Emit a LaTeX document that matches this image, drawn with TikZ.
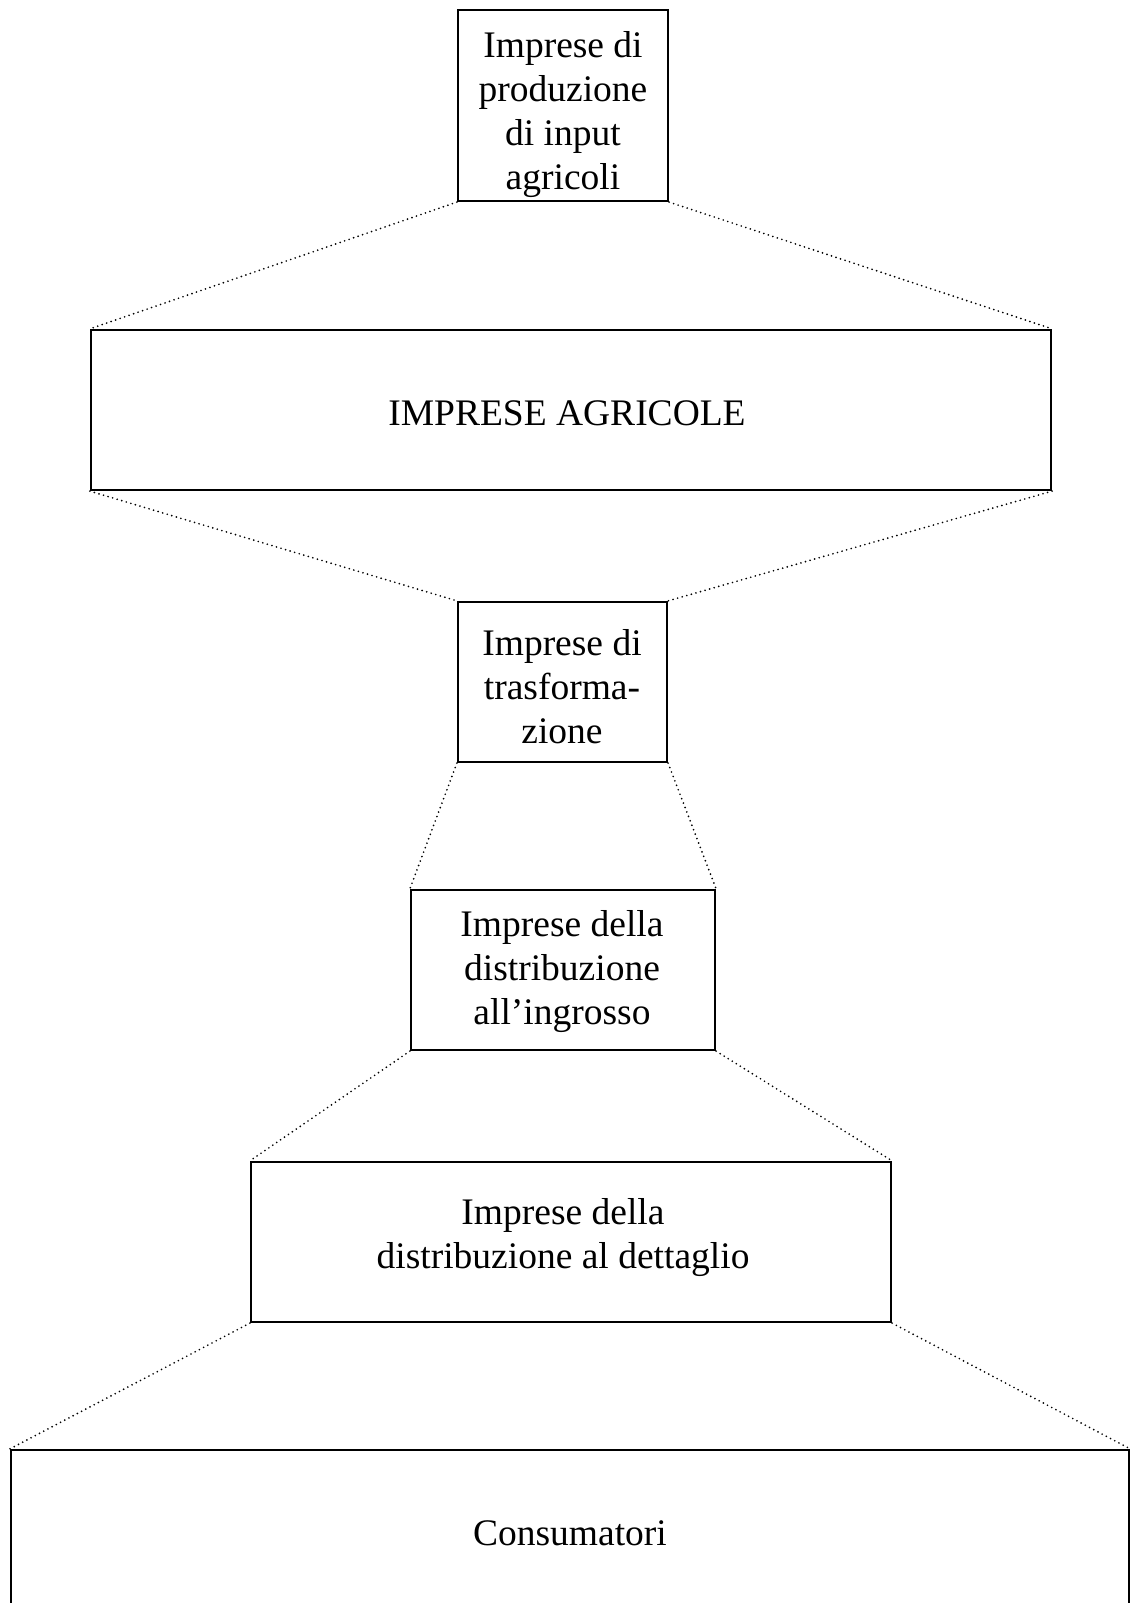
\documentclass[tikz,border=0pt]{standalone}
\usepackage{fontspec}
\setmainfont{Liberation Serif}
\usetikzlibrary{calc}

\begin{document}
\begin{tikzpicture}[x=0.4pt,y=-0.4pt,
        box/.style={draw, line width=0.9pt, inner sep=0pt},
        txt/.style={align=center, inner sep=0pt, font=\fontsize{15}{17.6}\selectfont},
        link/.style={line width=0.75pt, dash pattern=on 0pt off 1.9pt, line cap=round}]
        \def\W{1131}                                % page width (px)
        \def\H{1603}                                % page height (px)

        \useasboundingbox (0,0) rectangle (\W,\H);
        \clip (0,0) rectangle (\W,\H);

        % The boxes of the chain, top to bottom
        \node[box, minimum width=84pt,    minimum height=76.4pt] (input)   at (563,105.5) {};
        \node[box, minimum width=384pt,   minimum height=64pt]   (agri)    at (571,410)   {};
        \node[box, minimum width=83.6pt,  minimum height=64pt]   (trasf)   at (562.5,682) {};
        \node[box, minimum width=121.6pt, minimum height=64pt]   (ingr)    at (563,970)   {};
        \node[box, minimum width=256pt,   minimum height=64pt]   (dett)    at (571,1242)  {};
        \node[box, minimum width=447.2pt, minimum height=64pt]   (consum)  at (570,1530)  {};

        % Their texts
        \node[txt] (inputtxt)  at (563,115)  {Imprese di\\produzione\\di input\\agricoli};
        \node[txt] (agritxt)   at (567,413)  {IMPRESE AGRICOLE};
        \node[txt] (trasftxt)  at (562,687)  {Imprese di\\trasforma-\\zione};
        \node[txt] (ingrtxt)   at (562,972)  {Imprese della\\distribuzione\\all’ingrosso};
        \node[txt] (detttxt)   at (563,1238) {Imprese della\\distribuzione al dettaglio};
        \node[txt] (consumtxt) at (570,1533) {Consumatori};

        % Dotted lines from corner to corner
        \foreach \a/\b in {input/agri, agri/trasf, trasf/ingr, ingr/dett, dett/consum}{
            \draw[link] (\a.south west) -- (\b.north west);
            \draw[link] (\a.south east) -- (\b.north east);
        }

    \end{tikzpicture}
\end{document}
